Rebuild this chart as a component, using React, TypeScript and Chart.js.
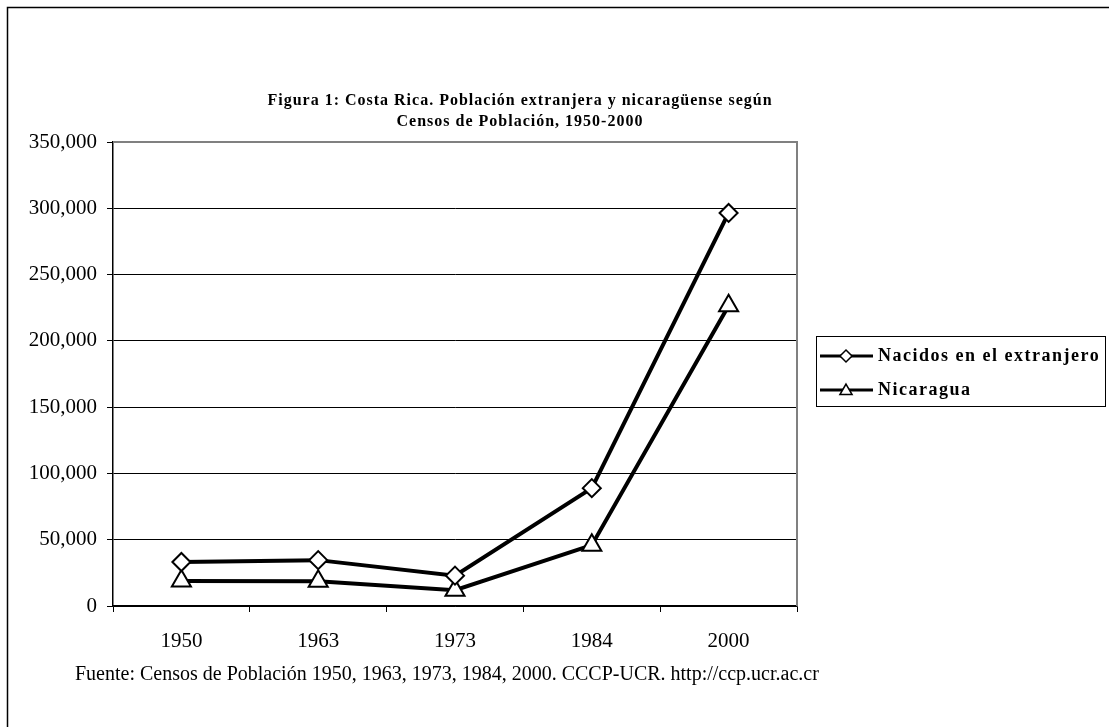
import React, { useEffect, useRef } from "react";
import { Chart, registerables } from "chart.js";

Chart.register(...registerables);

const years = ["1950", "1963", "1973", "1984", "2000"];
const nacidosExtranjero = [33200, 34600, 22900, 88900, 296500];
const nicaragua = [18900, 18700, 11900, 45900, 226400];
const seriesNames = ["Nacidos en el extranjero", "Nicaragua"];
const titleLines = [
  "Figura 1: Costa Rica. Población extranjera y nicaragüense según",
  "Censos de Población, 1950-2000",
];
const sourceText =
  "Fuente: Censos de Población 1950, 1963, 1973, 1984, 2000. CCCP-UCR. http://ccp.ucr.ac.cr";
const yMax = 350000;
const yStep = 50000;

const SERIF = "'Liberation Serif', 'Times New Roman', serif";

function drawMarker(ctx: CanvasRenderingContext2D, style: string, r: number, x: number, y: number) {
  ctx.beginPath();
  if (style === "rectRot") {
    ctx.moveTo(x, y - r);
    ctx.lineTo(x + r, y);
    ctx.lineTo(x, y + r);
    ctx.lineTo(x - r, y);
  } else {
    ctx.moveTo(x, y - r);
    ctx.lineTo(x + r * 0.866, y + r * 0.5);
    ctx.lineTo(x - r * 0.866, y + r * 0.5);
  }
  ctx.closePath();
  ctx.fill();
  ctx.stroke();
}

const decorPlugin = {
  id: "decor",
  afterDraw(chart: any) {
    const ctx = chart.ctx as CanvasRenderingContext2D;
    const area = chart.chartArea;
    ctx.save();
    // plot area border (top & right) gray
    ctx.strokeStyle = "#808080";
    ctx.lineWidth = 2;
    ctx.beginPath();
    ctx.moveTo(area.left, area.top);
    ctx.lineTo(area.right, area.top);
    ctx.lineTo(area.right, area.bottom);
    ctx.stroke();

    // outer frame
    ctx.strokeStyle = "#000";
    ctx.lineWidth = 1.5;
    ctx.beginPath();
    ctx.moveTo(7.5, 727);
    ctx.lineTo(7.5, 7.5);
    ctx.lineTo(1109, 7.5);
    ctx.stroke();

    // title
    ctx.fillStyle = "#000";
    ctx.textAlign = "center";
    ctx.textBaseline = "middle";
    ctx.font = `bold 16px ${SERIF}`;
    (ctx as any).letterSpacing = "1px";
    ctx.fillText(titleLines[0], 520, 101);
    ctx.fillText(titleLines[1], 520, 122);

    // source
    (ctx as any).letterSpacing = "0px";
    ctx.font = `20px ${SERIF}`;
    ctx.textAlign = "left";
    ctx.fillText(sourceText, 75, 675);

    // legend
    const lx = 816, ly = 336, lw = 289, lh = 70;
    ctx.fillStyle = "#fff";
    ctx.fillRect(lx, ly, lw, lh);
    ctx.strokeStyle = "#000";
    ctx.lineWidth = 1;
    ctx.strokeRect(lx + 0.5, ly + 0.5, lw, lh);
    const rows = [356, 390];
    const styles = ["rectRot", "triangle"];
    const radii = [6, 7];
    rows.forEach((ry, i) => {
      ctx.strokeStyle = "#000";
      ctx.lineWidth = 3;
      ctx.beginPath();
      ctx.moveTo(820, ry);
      ctx.lineTo(873, ry);
      ctx.stroke();
      ctx.fillStyle = "#fff";
      ctx.lineWidth = 1.5;
      drawMarker(ctx, styles[i], radii[i], 846, i === 1 ? ry + 1 : ry);
      ctx.fillStyle = "#000";
      ctx.font = `bold 18px ${SERIF}`;
      (ctx as any).letterSpacing = "1.5px";
      ctx.textAlign = "left";
      ctx.textBaseline = "middle";
      ctx.fillText(seriesNames[i], 878, ry);
    });
    ctx.restore();
  },
};

export default function App() {
  const ref = useRef<HTMLCanvasElement | null>(null);
  useEffect(() => {
    document.body.style.margin = "0";
    const canvas = ref.current!;
    const chart = new Chart(canvas, {
      type: "line",
      data: {
        labels: years,
        datasets: [
          {
            label: seriesNames[0],
            data: nacidosExtranjero,
            borderColor: "#000",
            borderWidth: 4,
            pointStyle: "rectRot",
            pointRadius: 9,
            pointBorderWidth: 2,
            pointBackgroundColor: "#fff",
            pointBorderColor: "#000",
            tension: 0,
          },
          {
            label: seriesNames[1],
            data: nicaragua,
            borderColor: "#000",
            borderWidth: 4,
            pointStyle: "triangle",
            pointRadius: 11,
            pointBorderWidth: 2,
            pointBackgroundColor: "#fff",
            pointBorderColor: "#000",
            tension: 0,
          },
        ],
      },
      options: {
        animation: false,
        responsive: false,
        maintainAspectRatio: false,
        layout: { padding: { left: 0, top: 142, right: 312, bottom: 0 } },
        plugins: { legend: { display: false }, title: { display: false }, tooltip: { enabled: false } },
        scales: {
          x: {
            offset: true,
            grid: { offset: true, drawOnChartArea: false, drawTicks: true, tickLength: 6, color: "#000", lineWidth: 1 },
            border: { color: "#000", width: 1.5 },
            ticks: { color: "#000", font: { family: SERIF, size: 21 }, padding: 17, maxRotation: 0 },
            afterFit: (s: any) => { s.height = 121; },
          },
          y: {
            min: 0,
            max: yMax,
            grid: { color: "#000", lineWidth: 1, tickLength: 6 },
            border: { color: "#000", width: 1.5 },
            ticks: {
              stepSize: yStep,
              color: "#000",
              font: { family: SERIF, size: 21 },
              padding: 10,
              callback: (v: any) => Number(v).toLocaleString("en-US"),
            },
            afterFit: (s: any) => { s.width = 113; },
          },
        },
      },
      plugins: [decorPlugin],
    });
    return () => chart.destroy();
  }, []);
  return (
    <div style={{ position: "fixed", left: 0, top: 0, width: 1109, height: 727, background: "#fff" }}>
      <canvas ref={ref} width={1109} height={727} style={{ width: 1109, height: 727 }} />
    </div>
  );
}
